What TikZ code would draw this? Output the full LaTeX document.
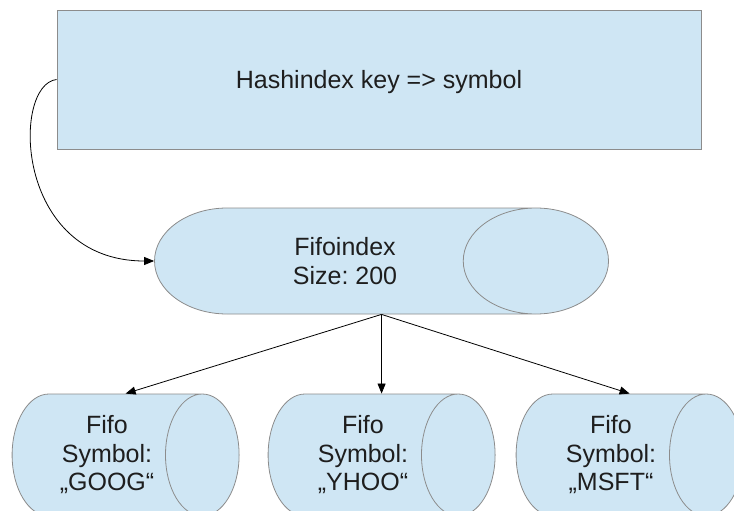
\documentclass[tikz,border=0pt]{standalone}
\usepackage{fontspec}
\setmainfont{Liberation Sans}
\usepackage{tikz}
\usetikzlibrary{arrows.meta,positioning,calc,shapes.geometric}
\definecolor{IdxFill}{HTML}{CFE6F4}
\definecolor{IdxLine}{HTML}{8C8C8C}
\definecolor{IdxInk}{HTML}{1E1E1E}
\frenchspacing

\begin{document}
\begin{tikzpicture}[
  x=1pt, y=1pt,
  >={Triangle[length=10pt,width=8pt]},
  every node/.style={font=\fontsize{25}{28.5}\selectfont,text=IdxInk,align=center},
  table/.style={draw=IdxLine,fill=IdxFill,line width=0.9pt,minimum width=644pt,minimum height=139pt,inner sep=0pt,text height=18pt,text depth=0pt},
  queue/.style={cylinder,draw=IdxLine,fill=IdxFill,line width=0.8pt,inner sep=0pt},
  link/.style={->,line width=0.8pt,black},
]
\useasboundingbox (0,0) rectangle (734,-511);
\clip (0,0) rectangle (734,-511);

% hash table on top
\node[table] (hash) at (379,-79.5) {Hashindex key => symbol};

% the ring buffer index
\node[queue,aspect=3.1,minimum height=454pt,minimum width=106pt] (fifoidx) at (345,-261) {Fifoindex\\Size: 200};

% one fifo per symbol
\node[queue,aspect=0.94,minimum height=227pt,minimum width=122pt] (fifoA) at (107,-455) {Fifo\\Symbol:\\„GOOG“};
\node[queue,aspect=0.94,minimum height=227pt,minimum width=122pt] (fifoB) at (363,-455) {Fifo\\Symbol:\\„YHOO“};
\node[queue,aspect=0.94,minimum height=227pt,minimum width=122pt] (fifoC) at (611,-455) {Fifo\\Symbol:\\„MSFT“};

\draw[link] (hash.west) .. controls +(-45,-5) and +(-140,0) .. (fifoidx.west);
\foreach \q in {fifoA,fifoB,fifoC}
  \draw[link] (fifoidx.shape center |- fifoidx.south) -- (\q.shape center |- \q.north);
\end{tikzpicture}
\end{document}
